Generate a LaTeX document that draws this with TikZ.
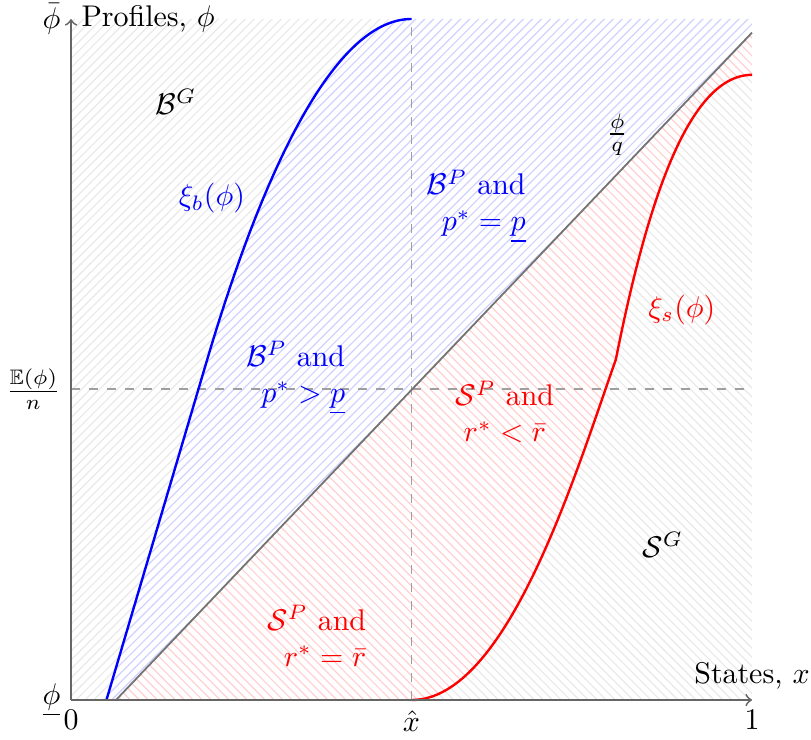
\documentclass[tikz,border=0pt]{standalone}
\usepackage{amssymb}
\usetikzlibrary{patterns}
\begin{document}
\begin{tikzpicture}[x=8cm,y=8cm,
  axis/.style={black!60, semithick, ->},
  guide/.style={gray!75, dashed, line width=0.5pt},
  diag/.style={black!55, semithick},
  bluetxt/.style={blue, align=right},
  redtxt/.style={red, align=right},
  redctr/.style={red, align=center},
]
\useasboundingbox (-0.1043,-0.0587) rectangle (1.0866,1.0279);
\coordinate (O) at (0,0);
\coordinate (X1) at (1,0);
\coordinate (Y1) at (0,1);
\coordinate (Xh) at (0.5,0);
\coordinate (Xt) at (0.5,1);
\coordinate (Ml) at (0,0.457);
\coordinate (Mr) at (1,0.457);
\coordinate (D0) at (0.066,0);
\coordinate (D1) at (1,0.98);
\coordinate (B0) at (0.052,0);
\coordinate (BK) at (0.2,0.5);
\coordinate (S1) at (1,0.918);
\coordinate (SK) at (0.8,0.5);
\coordinate (TR) at (1,1);

% hatched regions
\fill[pattern=north east lines, pattern color=gray!17] (O) -- (Y1) -- (Xt) .. controls (0.38,1) and (0.274,0.75) .. (BK) -- (B0) -- cycle;
\fill[pattern=north east lines, pattern color=blue!18] (B0) -- (BK) .. controls (0.274,0.75) and (0.38,1) .. (Xt) -- (TR) -- (D1) -- (D0) -- cycle;
\fill[pattern=north west lines, pattern color=red!18] (D0) -- (D1) -- (S1) .. controls (0.9,0.918) and (0.84,0.7) .. (SK) .. controls (0.74,0.33) and (0.64,0) .. (Xh) -- cycle;
\fill[pattern=north west lines, pattern color=gray!17] (Xh) .. controls (0.64,0) and (0.74,0.33) .. (SK) .. controls (0.84,0.7) and (0.9,0.918) .. (S1) -- (X1) -- cycle;

% guides
\draw[guide] (Xh) -- (Xt);
\draw[guide] (Ml) -- (Mr);

% diagonal
\draw[diag] (D0) -- (D1);

% curves
\draw[blue, thick] (B0) -- (BK) .. controls (0.274,0.75) and (0.38,1) .. (Xt);
\draw[red, thick] (Xh) .. controls (0.64,0) and (0.74,0.33) .. (SK) .. controls (0.84,0.7) and (0.9,0.918) .. (S1);

% axes
\draw[axis] (O) -- (X1);
\draw[axis] (O) -- (Y1);

% axis labels
\node[left] (phibar) at (Y1) {$\bar{\phi}$};
\node[right] (ylab) at (Y1) {Profiles, $\phi$};
\node[left] (phiunder) at (O) {$\underline{\phi}$};
\node[below] (zero) at (O) {$0$};
\node[below] (xhat) at (Xh) {$\hat{x}$};
\node[below] (one) at (X1) {$1$};
\node[above] (xlab) at (X1) {States, $x$};
\node[left] (Elab) at (Ml) {$\frac{\mathbb{E}(\phi)}{n}$};
\node (qlab) at (0.802,0.830) {$\frac{\phi}{q}$};

% region labels
\node (BG) at (0.154,0.878) {$\mathcal{B}^G$};
\node[blue] (xib) at (0.207,0.737) {$\xi_b(\phi)$};
\node[bluetxt] (BPeq) at (0.595,0.725) {$\mathcal{B}^P$ and\\ $p^*=\underline{p}$};
\node[bluetxt] (BPgt) at (0.330,0.473) {$\mathcal{B}^P$ and\\ $p^*>\underline{p}$};
\node[redctr] (SPlt) at (0.637,0.423) {$\mathcal{S}^P$ and\\ $r^*<\bar{r}$};
\node[red] (xis) at (0.897,0.573) {$\xi_s(\phi)$};
\node (SG) at (0.869,0.228) {$\mathcal{S}^G$};
\node[redtxt] (SPeq) at (0.361,0.094) {$\mathcal{S}^P$ and\\ $r^*=\bar{r}$};
\end{tikzpicture}
\end{document}
